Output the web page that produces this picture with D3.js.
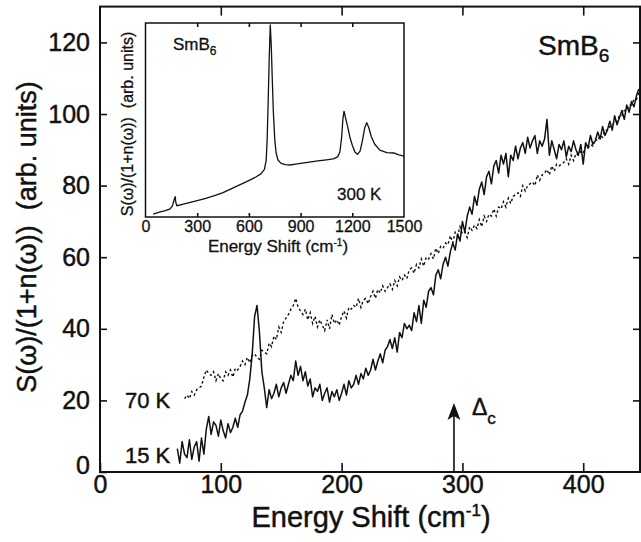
<!DOCTYPE html>
<html>
<head>
<meta charset="utf-8">
<script src="https://cdn.jsdelivr.net/npm/d3@7"></script>
<style>
body { margin: 0; background: #fff; }
svg { display: block; font-family: "Liberation Sans", Arial, Helvetica, sans-serif; }
svg text { stroke: #111; stroke-width: 0.45px; }
svg .inset text { stroke-width: 0.3px; }
</style>
</head>
<body>
<div id="container"></div>
<script>
const width = 641;
const height = 542;

// main panel ticks
const xTicks = [0, 100, 200, 300, 400];
const yTicks = [0, 20, 40, 60, 80, 100, 120];
// inset ticks
const insetTicks = [0, 300, 600, 900, 1200, 1500];

// Δc marker position (cm-1) and arrow tip height
const gapShift = 293;
const gapArrowTop = 19.3;

// 15 K spectrum [shift cm-1, S/(1+n)]
const spectrum15K = [
  [64, 6.5], [66, 2.5], [68, 8.5], [70, 5.0], [72, 4.0], [74, 9.0], [76, 3.5], [78, 7.0], [80, 8.5], [82, 3.0],
  [84, 9.5], [86, 5.0], [88, 12.0], [90, 15.5], [92, 10.5], [94, 14.0], [96, 13.0], [98, 10.0], [100, 14.5], [102, 11.5],
  [104, 9.5], [106, 13.5], [108, 11.0], [110, 12.5], [112, 15.0], [114, 12.5], [116, 16.0], [118, 17.0], [120, 19.5], [122, 21.5],
  [124, 26.0], [126, 33.0], [128, 43.5], [130, 46.5], [132, 39.0], [134, 28.0], [136, 23.5], [138, 18.0], [140, 23.0], [142, 20.5],
  [144, 22.0], [146, 24.5], [148, 21.0], [150, 23.5], [152, 25.0], [154, 22.0], [156, 24.5], [158, 27.0], [160, 25.5], [162, 31.0],
  [164, 27.0], [166, 29.5], [168, 25.5], [170, 28.0], [172, 24.0], [174, 26.0], [176, 21.0], [178, 23.5], [180, 22.5], [182, 24.5],
  [184, 20.0], [186, 22.0], [188, 23.5], [190, 19.5], [192, 22.5], [194, 21.0], [196, 23.0], [198, 20.0], [200, 22.0], [202, 24.5],
  [204, 21.5], [206, 25.5], [208, 23.5], [210, 24.5], [212, 27.0], [214, 24.5], [216, 27.5], [218, 26.0], [220, 29.0], [222, 27.0],
  [224, 28.5], [226, 31.5], [228, 28.5], [230, 31.0], [232, 33.0], [234, 30.5], [236, 34.0], [238, 35.0], [240, 37.0], [242, 34.5],
  [244, 37.5], [246, 33.5], [248, 39.0], [250, 37.5], [252, 41.5], [254, 40.0], [256, 41.0], [258, 39.5], [260, 44.5], [262, 42.0],
  [264, 46.5], [266, 41.5], [268, 48.0], [270, 46.0], [272, 50.5], [274, 51.5], [276, 49.5], [278, 55.0], [280, 56.5], [282, 54.0],
  [284, 58.0], [286, 60.0], [288, 57.5], [290, 61.5], [292, 64.0], [294, 62.0], [296, 66.5], [298, 64.5], [300, 70.0], [302, 67.0],
  [304, 71.5], [306, 74.0], [308, 72.0], [310, 77.0], [312, 74.5], [314, 79.0], [316, 81.0], [318, 77.5], [320, 82.5], [322, 84.0],
  [324, 80.5], [326, 85.5], [328, 87.0], [330, 83.5], [332, 88.5], [334, 86.0], [336, 89.0], [338, 82.5], [340, 88.5], [342, 87.0],
  [344, 91.0], [346, 87.5], [348, 90.5], [350, 92.0], [352, 89.0], [354, 93.5], [356, 90.5], [358, 92.5], [360, 94.0], [362, 89.0],
  [364, 92.5], [366, 91.0], [368, 93.0], [370, 98.5], [372, 88.5], [374, 92.5], [376, 90.0], [378, 87.5], [380, 91.5], [382, 90.0],
  [384, 92.5], [386, 88.0], [388, 91.0], [390, 89.5], [392, 92.5], [394, 90.0], [396, 88.5], [398, 91.5], [400, 86.0], [402, 92.0],
  [404, 90.5], [406, 94.0], [408, 91.5], [410, 92.5], [412, 95.0], [414, 93.0], [416, 96.5], [418, 94.0], [420, 95.5], [422, 98.0],
  [424, 95.5], [426, 99.5], [428, 97.0], [430, 99.0], [432, 101.0], [434, 98.5], [436, 102.5], [438, 100.5], [440, 103.5], [442, 102.0],
  [444, 105.0], [446, 107.0]
];

// 70 K spectrum [shift cm-1, S/(1+n)]
const spectrum70K = [
  [70, 20.5], [72, 21.5], [74, 20.5], [76, 22.5], [78, 21.5], [80, 23.0], [82, 23.5], [84, 24.0], [86, 26.5], [88, 28.5],
  [90, 27.5], [92, 27.0], [94, 28.0], [96, 25.5], [98, 27.5], [100, 26.0], [102, 25.5], [104, 28.0], [106, 27.0], [108, 28.5],
  [110, 26.5], [112, 29.0], [114, 28.5], [116, 29.5], [118, 31.0], [120, 30.0], [122, 32.0], [124, 30.5], [126, 32.5], [128, 33.0],
  [130, 32.0], [132, 31.5], [134, 34.0], [136, 33.5], [138, 33.0], [140, 36.0], [142, 35.0], [144, 38.0], [146, 37.0], [148, 40.5],
  [150, 39.0], [152, 42.0], [154, 43.0], [156, 44.0], [158, 45.5], [160, 46.5], [162, 48.5], [164, 46.0], [166, 45.0], [168, 44.0],
  [170, 45.5], [172, 42.5], [174, 44.5], [176, 41.5], [178, 43.5], [180, 40.5], [182, 42.5], [184, 41.0], [186, 39.5], [188, 42.5],
  [190, 40.0], [192, 44.0], [194, 41.5], [196, 42.5], [198, 41.0], [200, 43.5], [202, 45.0], [204, 43.0], [206, 46.0], [208, 45.5],
  [210, 46.5], [212, 46.0], [214, 48.5], [216, 46.0], [218, 48.0], [220, 48.5], [222, 47.0], [224, 49.0], [226, 50.5], [228, 48.5],
  [230, 51.0], [232, 50.0], [234, 52.0], [236, 50.5], [238, 51.5], [240, 52.5], [242, 51.0], [244, 53.5], [246, 52.0], [248, 54.5],
  [250, 53.5], [252, 55.0], [254, 54.0], [256, 56.5], [258, 57.0], [260, 55.5], [262, 58.0], [264, 57.0], [266, 59.5], [268, 57.5],
  [270, 60.0], [272, 59.5], [274, 61.0], [276, 59.5], [278, 62.5], [280, 61.0], [282, 63.0], [284, 62.5], [286, 64.0], [288, 63.5],
  [290, 66.0], [292, 64.0], [294, 67.0], [296, 66.0], [298, 68.5], [300, 66.5], [302, 67.0], [304, 65.5], [306, 68.5], [308, 67.5],
  [310, 69.0], [312, 68.0], [314, 70.5], [316, 68.5], [318, 71.5], [320, 70.0], [322, 72.0], [324, 71.5], [326, 73.5], [328, 71.5],
  [330, 74.0], [332, 73.5], [334, 75.5], [336, 74.0], [338, 76.5], [340, 75.0], [342, 77.0], [344, 77.5], [346, 78.0], [348, 77.0],
  [350, 80.0], [352, 78.5], [354, 80.0], [356, 80.5], [358, 81.0], [360, 80.0], [362, 83.0], [364, 81.5], [366, 83.0], [368, 83.5],
  [370, 84.5], [372, 83.0], [374, 85.5], [376, 84.0], [378, 86.0], [380, 85.5], [382, 86.0], [384, 86.5], [386, 87.5], [388, 86.0],
  [390, 88.5], [392, 87.0], [394, 89.0], [396, 88.5], [398, 89.5], [400, 89.0], [402, 91.0], [404, 90.5], [406, 91.5], [408, 91.0],
  [410, 93.0], [412, 92.5], [414, 94.0], [416, 93.5], [418, 95.5], [420, 95.5], [422, 96.5], [424, 96.5], [426, 98.0], [428, 98.0],
  [430, 99.5], [432, 99.5], [434, 101.0], [436, 101.0], [438, 102.5], [440, 102.5], [442, 104.0], [444, 104.0], [446, 106.0]
];

// inset: 300 K spectrum over the wide range
const spectrum300K = [
  [45, 1.5], [80, 2.5], [110, 3.2], [140, 4.0], [155, 5.5], [165, 8.5], [172, 10.5], [176, 7.5], [182, 5.8], [220, 6.6],
  [260, 7.5], [300, 8.4], [350, 9.6], [400, 11.0], [450, 12.6], [490, 14.2], [540, 16.3], [590, 18.4], [640, 20.6], [670, 22.2],
  [690, 24.5], [700, 29.0], [706, 40.0], [712, 60.0], [718, 82.0], [724, 99.0], [730, 88.0], [736, 70.0], [742, 54.0], [750, 40.0],
  [758, 33.0], [768, 29.5], [785, 27.8], [810, 27.0], [840, 26.8], [870, 27.2], [900, 27.6], [950, 28.3], [1000, 28.9], [1050, 29.5],
  [1090, 30.0], [1115, 31.0], [1128, 33.5], [1138, 41.0], [1146, 51.0], [1152, 54.5], [1160, 51.5], [1172, 47.0], [1185, 41.5], [1200, 37.0],
  [1215, 33.5], [1230, 32.3], [1245, 34.0], [1258, 39.0], [1272, 46.0], [1284, 48.6], [1296, 46.0], [1310, 41.5], [1330, 37.5], [1360, 34.5],
  [1400, 33.2], [1440, 33.0], [1470, 32.0], [1500, 31.4]
];

const svg = d3.select('#container').append('svg')
    .attr('width', width)
    .attr('height', height);

const x = d3.scaleLinear().domain([0, 447]).range([100, 640]);
const y = d3.scaleLinear().domain([0, 130]).range([472, 6.6]);

const line = d3.line()
    .x(d => x(d[0]))
    .y(d => y(d[1]));

// curves
svg.append('path')
    .datum(spectrum70K)
    .attr('fill', 'none')
    .attr('stroke', '#111')
    .attr('stroke-width', 1.4)
    .attr('stroke-dasharray', '2.5,2.5')
    .attr('d', line);

svg.append('path')
    .datum(spectrum15K)
    .attr('fill', 'none')
    .attr('stroke', '#111')
    .attr('stroke-width', 1.5)
    .attr('stroke-linejoin', 'round')
    .attr('d', line);

// frame
svg.append('rect')
    .attr('x', x(0))
    .attr('y', y(130))
    .attr('width', x(447) - x(0))
    .attr('height', y(0) - y(130))
    .attr('fill', 'none')
    .attr('stroke', '#111')
    .attr('stroke-width', 2);

function styleAxis(g, size) {
    g.select('.domain').remove();
    g.selectAll('.tick line').attr('stroke', '#111').attr('stroke-width', 1.6);
    g.selectAll('.tick text').attr('fill', '#111').attr('font-size', size);
    g.attr('font-family', null);
}

let xAxis = svg.append('g')
    .attr('transform', `translate(0,${y(0)})`)
    .call(d3.axisBottom(x).tickValues(xTicks).tickSize(-9).tickPadding(3))
    .call(g => styleAxis(g, 25));

let yAxis = svg.append('g')
    .attr('transform', `translate(${x(0)},0)`)
    .call(d3.axisLeft(y).tickValues(yTicks).tickSize(-7).tickPadding(10))
    .call(g => styleAxis(g, 25));

// corner zeros sit apart in the original
yAxis.selectAll('.tick text').filter(d => d === 0).attr('y', -7);

svg.append('g')
    .attr('transform', `translate(0,${y(130)})`)
    .call(d3.axisTop(x).tickValues(xTicks.slice(1)).tickSize(-9).tickFormat(''))
    .call(g => styleAxis(g, 25));

svg.append('g')
    .attr('transform', `translate(${x(447)},0)`)
    .call(d3.axisRight(y).tickValues(yTicks.slice(1)).tickSize(-7).tickFormat(''))
    .call(g => styleAxis(g, 25));

// axis titles
let xTitle = svg.append('text')
    .attr('x', 371)
    .attr('y', 527)
    .attr('text-anchor', 'middle')
    .attr('font-size', 29)
    .attr('fill', '#111');
xTitle.append('tspan').text('Energy Shift (cm');
xTitle.append('tspan').attr('font-size', 17).attr('dy', -11).text('-1');
xTitle.append('tspan').attr('dy', 11).text(')');

svg.append('text')
    .attr('transform', 'translate(36,237) rotate(-90)')
    .attr('text-anchor', 'middle')
    .attr('font-size', 27)
    .attr('fill', '#111')
    .text('S(\u03c9)/(1+n(\u03c9))\u00a0\u00a0(arb. units)');

// labels
let mainTitle = svg.append('text')
    .attr('x', 538)
    .attr('y', 55)
    .attr('font-size', 28)
    .attr('fill', '#111');
mainTitle.append('tspan').text('SmB');
mainTitle.append('tspan').attr('font-size', 19).attr('dy', 7).text('6');

svg.append('text').attr('x', 125).attr('y', 408).attr('font-size', 22).attr('fill', '#111').text('70 K');
svg.append('text').attr('x', 125).attr('y', 463).attr('font-size', 22).attr('fill', '#111').text('15 K');

// gap arrow
const ax = x(gapShift);
svg.append('line')
    .attr('x1', ax).attr('x2', ax)
    .attr('y1', y(0)).attr('y2', y(gapArrowTop) + 10)
    .attr('stroke', '#111')
    .attr('stroke-width', 1.6);
svg.append('path')
    .attr('d', `M${ax},${y(gapArrowTop)} L${ax - 6.5},${y(gapArrowTop) + 17} L${ax},${y(gapArrowTop) + 13} L${ax + 6.5},${y(gapArrowTop) + 17} Z`)
    .attr('fill', '#111');

let gapLabel = svg.append('text')
    .attr('x', ax + 18)
    .attr('y', 415)
    .attr('font-size', 23)
    .attr('fill', '#111');
gapLabel.append('tspan').text('\u0394');
gapLabel.append('tspan').attr('font-size', 17).attr('dy', 9).text('c');

// inset
const xi = d3.scaleLinear().domain([0, 1500]).range([145.5, 404]);
const yi = d3.scaleLinear().domain([0, 100]).range([217, 23]);

const inset = svg.append('g').attr('class', 'inset');

inset.append('rect')
    .attr('x', xi(0))
    .attr('y', yi(100))
    .attr('width', xi(1500) - xi(0))
    .attr('height', yi(0) - yi(100))
    .attr('fill', '#fff')
    .attr('stroke', '#111')
    .attr('stroke-width', 1.5);

inset.append('path')
    .datum(spectrum300K)
    .attr('fill', 'none')
    .attr('stroke', '#111')
    .attr('stroke-width', 1.3)
    .attr('stroke-linejoin', 'round')
    .attr('d', d3.line().x(d => xi(d[0])).y(d => yi(d[1])));

inset.append('g')
    .attr('transform', `translate(0,${yi(0)})`)
    .call(d3.axisBottom(xi).tickValues(insetTicks).tickSize(-4).tickPadding(4).tickFormat(d3.format('d')))
    .call(g => styleAxis(g, 16))
    .call(g => g.selectAll('.tick line').filter(d => d === 0 || d === 1500).remove());

inset.append('g')
    .attr('transform', `translate(0,${yi(100)})`)
    .call(d3.axisTop(xi).tickValues(insetTicks.slice(1, -1)).tickSize(-4).tickFormat(''))
    .call(g => styleAxis(g, 16));

let insetXTitle = inset.append('text')
    .attr('x', 278)
    .attr('y', 252)
    .attr('text-anchor', 'middle')
    .attr('font-size', 17)
    .attr('fill', '#111');
insetXTitle.append('tspan').text('Energy Shift (cm');
insetXTitle.append('tspan').attr('font-size', 10).attr('dy', -6).text('-1');
insetXTitle.append('tspan').attr('dy', 6).text(')');

inset.append('text')
    .attr('transform', 'translate(133,124) rotate(-90)')
    .attr('text-anchor', 'middle')
    .attr('font-size', 16)
    .attr('fill', '#111')
    .text('S(\u03c9)/(1+n(\u03c9))\u00a0\u00a0(arb. units)');

let insetTitle = inset.append('text')
    .attr('x', 173)
    .attr('y', 50)
    .attr('font-size', 17)
    .attr('fill', '#111');
insetTitle.append('tspan').text('SmB');
insetTitle.append('tspan').attr('font-size', 12).attr('dy', 5).text('6');

inset.append('text')
    .attr('x', 337)
    .attr('y', 200)
    .attr('font-size', 17)
    .attr('fill', '#111')
    .text('300 K');
</script>
</body>
</html>
